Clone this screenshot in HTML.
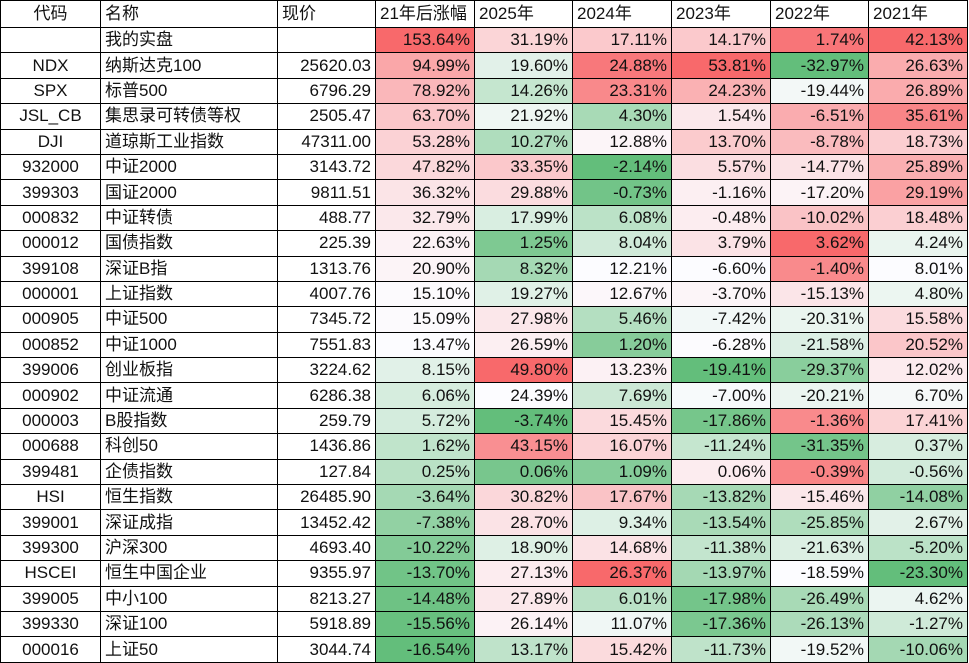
<!DOCTYPE html>
<html><head><meta charset="utf-8">
<style>
html,body{margin:0;padding:0;background:#fff;}
body{width:969px;height:663px;overflow:hidden;font-family:"Liberation Sans","Noto Sans CJK SC",sans-serif;}
table{border-collapse:collapse;table-layout:fixed;position:absolute;left:0;top:0;}
td{border:1px solid #000;height:25.4px;padding:0 4px;font-size:17px;line-height:24px;white-space:nowrap;overflow:hidden;color:#111;box-sizing:border-box;}
td.c{text-align:center}td.l{text-align:left}td.r{text-align:right}
tr.h td{text-align:left;height:27px}
</style></head><body>
<table id="t">
<colgroup><col style="width:100px"><col style="width:177px"><col style="width:98px"><col style="width:99px"><col style="width:98px"><col style="width:99px"><col style="width:99px"><col style="width:98px"><col style="width:99px"></colgroup>
<tbody id="tb"></tbody></table>
<script>
const headers=["代码","名称","现价","21年后涨幅","2025年","2024年","2023年","2022年","2021年"];
const codes=["","NDX","SPX","JSL_CB","DJI","932000","399303","000832","000012","399108","000001","000905","000852","399006","000902","000003","000688","399481","HSI","399001","399300","HSCEI","399005","399330","000016"];
const names=["我的实盘","纳斯达克100","标普500","集思录可转债等权","道琼斯工业指数","中证2000","国证2000","中证转债","国债指数","深证B指","上证指数","中证500","中证1000","创业板指","中证流通","B股指数","科创50","企债指数","恒生指数","深证成指","沪深300","恒生中国企业","中小100","深证100","上证50"];
const prices=["","25620.03","6796.29","2505.47","47311.00","3143.72","9811.51","488.77","225.39","1313.76","4007.76","7345.72","7551.83","3224.62","6286.38","259.79","1436.86","127.84","26485.90","13452.42","4693.40","9355.97","8213.27","5918.89","3044.74"];
const since21=[153.64,94.99,78.92,63.70,53.28,47.82,36.32,32.79,22.63,20.90,15.10,15.09,13.47,8.15,6.06,5.72,1.62,0.25,-3.64,-7.38,-10.22,-13.70,-14.48,-15.56,-16.54];
const y2025=[31.19,19.60,14.26,21.92,10.27,33.35,29.88,17.99,1.25,8.32,19.27,27.98,26.59,49.80,24.39,-3.74,43.15,0.06,30.82,28.70,18.90,27.13,27.89,26.14,13.17];
const y2024=[17.11,24.88,23.31,4.30,12.88,-2.14,-0.73,6.08,8.04,12.21,12.67,5.46,1.20,13.23,7.69,15.45,16.07,1.09,17.67,9.34,14.68,26.37,6.01,11.07,15.42];
const y2023=[14.17,53.81,24.23,1.54,13.70,5.57,-1.16,-0.48,3.79,-6.60,-3.70,-7.42,-6.28,-19.41,-7.00,-17.86,-11.24,0.06,-13.82,-13.54,-11.38,-13.97,-17.98,-17.36,-11.73];
const y2022=[1.74,-32.97,-19.44,-6.51,-8.78,-14.77,-17.20,-10.02,3.62,-1.40,-15.13,-20.31,-21.58,-29.37,-20.21,-1.36,-31.35,-0.39,-15.46,-25.85,-21.63,-18.59,-26.49,-26.13,-19.52];
const y2021=[42.13,26.63,26.89,35.61,18.73,25.89,29.19,18.48,4.24,8.01,4.80,15.58,20.52,12.02,6.70,17.41,0.37,-0.56,-14.08,2.67,-5.20,-23.30,4.62,-1.27,-10.06];
const series=[since21,y2025,y2024,y2023,y2022,y2021];
function median(a){const s=[...a].sort((x,y)=>x-y);const n=s.length;return n%2?s[(n-1)/2]:(s[n/2-1]+s[n/2])/2;}
function mix(c1,c2,t){return 'rgb('+c1.map((v,i)=>Math.round(v+(c2[i]-v)*t)).join(',')+')';}
const G=[99,190,123],W=[252,252,255],R=[248,105,107];
function colorFn(arr){const mn=Math.min(...arr),mx=Math.max(...arr),md=median(arr);
 return v=>v>=md?mix(W,R,(v-md)/((mx-md)||1)):mix(W,G,(md-v)/((md-mn)||1));}
const tb=document.getElementById('tb');
const hr=document.createElement('tr');hr.className='h';


headers.forEach((h,i)=>{const td=document.createElement('td');td.textContent=h;
 if(i<2)td.style.textAlign='center';if(i==1)td.style.textAlign='left';
 
 
 hr.appendChild(td);});
tb.appendChild(hr);
const fns=series.map(colorFn);
for(let r=0;r<names.length;r++){
 const tr=document.createElement('tr');
 
 
 [[codes[r],'c'],[names[r],'l'],[prices[r],'r']].forEach(([t,c],i)=>{const td=document.createElement('td');td.className=c;td.textContent=t;
  
  
  tr.appendChild(td);});
 series.forEach((s,k)=>{const td=document.createElement('td');td.className='r';
  td.textContent=s[r].toFixed(2)+'%';td.style.background=fns[k](s[r]);
  
  
  tr.appendChild(td);});
 tb.appendChild(tr);
}
</script>
</body></html>
